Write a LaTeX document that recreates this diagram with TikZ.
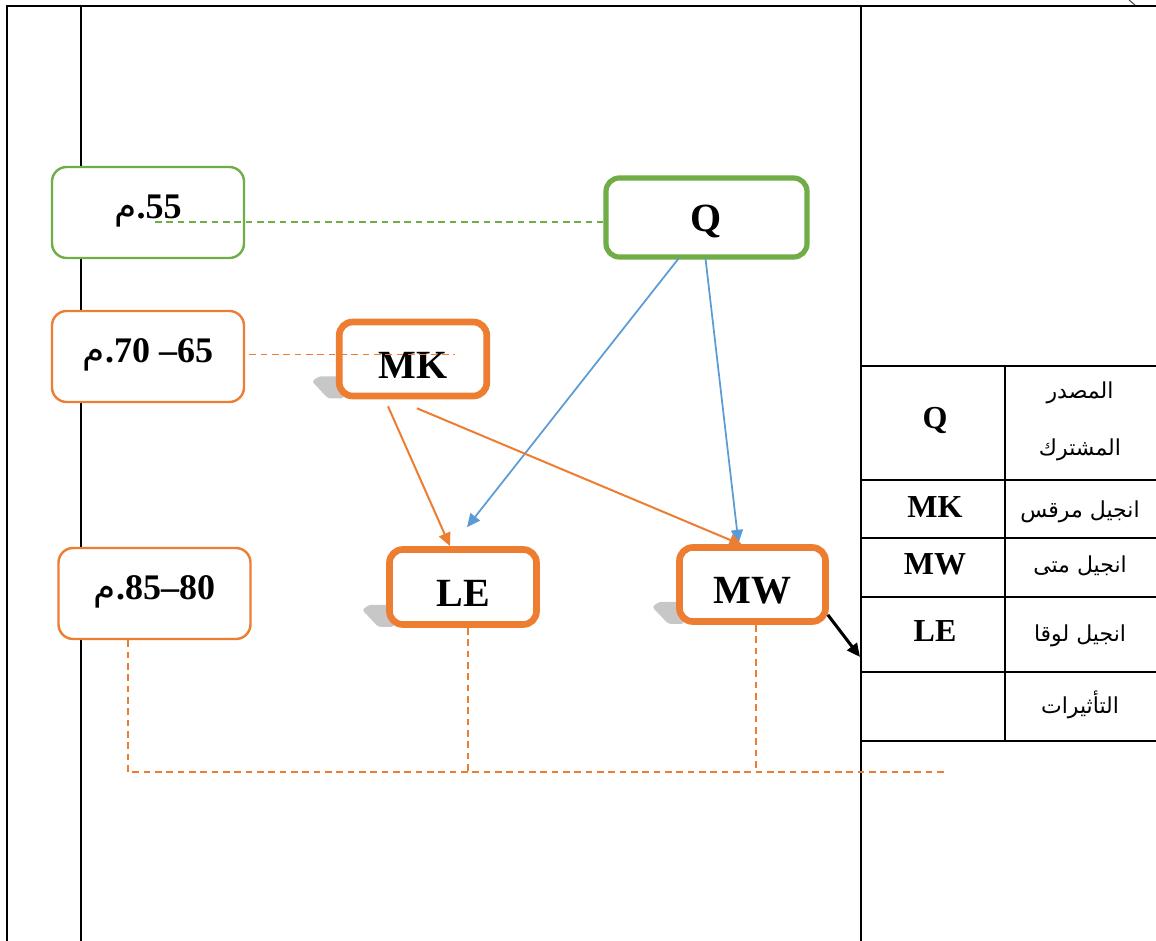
\documentclass[tikz,border=0pt]{standalone}
\usepackage{fontspec}
\setmainfont{Liberation Serif}
\newfontfamily\arabicfont[Script=Arabic]{DejaVu Sans}
\TeXXeTstate=1
\usetikzlibrary{arrows.meta,calc}
\definecolor{qgreen}{HTML}{70AD47}
\definecolor{korange}{HTML}{ED7D31}
\definecolor{lblue}{HTML}{5B9BD5}
\definecolor{shadowgrey}{gray}{0.78}
\pgfdeclarelayer{background}
\pgfsetlayers{background,main}
% grey drop shade at the lower left corner of a source box
\newcommand\dropshade[1]{%
  \fill[shadowgrey, rounded corners=2pt]
    ($(#1.south west)+(-24,-18)$) -- ++(7,-5) -- ++(25,0) -- ++(0,22) -- ++(-16,0) -- cycle;}
\begin{document}
\begin{tikzpicture}[x=0.75pt,y=-0.75pt,
  datebox/.style={draw=#1, line width=1.8pt, rounded corners=11pt, fill=white,
    minimum width=144pt, minimum height=68.25pt, inner sep=0pt,
    font=\fontsize{27}{30}\selectfont\bfseries, text height=18.3pt, text depth=9pt},
  source/.style={draw=#1, rounded corners=10pt, fill=white, inner sep=0pt,
    font=\fontsize{30}{33}\selectfont\bfseries, text height=28.5pt, text depth=0pt},
  frame/.style={line width=1.9pt, black},
  rule/.style={line width=1.6pt, black},
  tablabel/.style={font=\fontsize{24}{26}\selectfont\bfseries},
  tabtext/.style={font=\arabicfont\fontsize{16.5}{19}\selectfont},
  link/.style={dash pattern=on 5pt off 3.5pt, line width=1.1pt},
  flow/.style={-{Triangle[length=10pt,width=9pt]}}]
\useasboundingbox (0,0) rectangle (1156,941);

% page frame and columns
\draw[frame] (7,941) -- (7,6) -- (1156,6);
\draw[frame] (81,6) -- (81,941);
\draw[frame] (861,6) -- (861,941);
\draw[line width=0.8pt, black!70] (1129,0) -- (1135,5);

% key table
\foreach \yy in {366,480,538,597,672,741}
  \draw[rule] (861,\yy) -- (1156,\yy);
\draw[rule] (1005,366) -- (1005,741);
\node[tablabel] (kQ)  at (935,420) {Q};
\node[tablabel] (kMK) at (935,507) {MK};
\node[tablabel] (kMW) at (935,564) {MW};
\node[tablabel] (kLE) at (935,631) {LE};
\node[tabtext] (tQa) at (1080,393) {\beginR المصدر\endR};
\node[tabtext] (tQb) at (1080,450) {\beginR المشترك\endR};
\node[tabtext] (tMK) at (1080,512) {\beginR انجيل مرقس\endR};
\node[tabtext] (tMW) at (1080,566) {\beginR انجيل متى\endR};
\node[tabtext] (tLE) at (1080,636) {\beginR انجيل لوقا\endR};
\node[tabtext] (tIn) at (1080,705) {\beginR التأثيرات\endR};

% dates
\node[datebox=qgreen]  (d55)   at (148,212.5)  {{\arabicfont\mdseries م}.55};
\node[datebox=korange] (d6570) at (148,356.5)  {{\arabicfont\mdseries م}.70 –65};
\node[datebox=korange] (d8085) at (154.5,593.5) {{\arabicfont\mdseries م}.85–80};

% sources
\node[source=qgreen, line width=3.9pt, minimum width=150.75pt, minimum height=59.25pt,
      text height=21pt] (Q) at (706.5,217.5) {Q};
\node[source=korange, line width=5pt, minimum width=110.6pt, minimum height=55.5pt]
      (MK) at (413,359) {MK};
\node[source=korange, line width=5pt, minimum width=110.25pt, minimum height=56.25pt]
      (LE) at (463,587) {LE};
\node[source=korange, line width=5pt, minimum width=109.5pt, minimum height=55.5pt]
      (MW) at (752.5,584.5) {MW};

\begin{pgfonlayer}{background}
  \dropshade{MK}
  \dropshade{LE}
  \dropshade{MW}
\end{pgfonlayer}

% dating links
\draw[link, qgreen] ($(d55.center)+(7,9.5)$) coordinate (g1) -- (g1 -| Q.west);
\draw[link, korange] ($(d6570.east)+(4,-2)$) coordinate (o1) -- ($(o1 -| MK.center)+(42,0)$);
\coordinate (baseend) at (948,772);
\draw[link, korange] ($(d8085.south)+(-26.5,0)$) |- (baseend);
\draw[link, korange] ($(LE.south)+(5,0)$) coordinate (l1) -- (l1 |- baseend);
\draw[link, korange] ($(MW.south)+(3.5,0)$) coordinate (m1) -- (m1 |- baseend);

% dependencies
\draw[flow, lblue, line width=1.3pt] ($(Q.south)+(-28,-1)$) -- ($(LE.north)+(4,-19)$);
\draw[flow, lblue, line width=1.3pt] ($(Q.south)+(-1,-1)$) -- ($(MW.north)+(-14,-1)$);
\draw[flow, korange, line width=1.5pt] ($(MK.south)+(-25,7)$) -- ($(LE.north)+(-13,0)$);
\draw[flow, korange, line width=1.5pt] ($(MK.south)+(4,9)$) -- ($(MW.north)+(-10,1)$);
\coordinate (tableedge) at (860,657);
\draw[-{Triangle[length=10pt,width=9pt]}, line width=2.3pt] ($(MW.south east)+(-1,-10)$) -- (tableedge);
\end{tikzpicture}
\end{document}
